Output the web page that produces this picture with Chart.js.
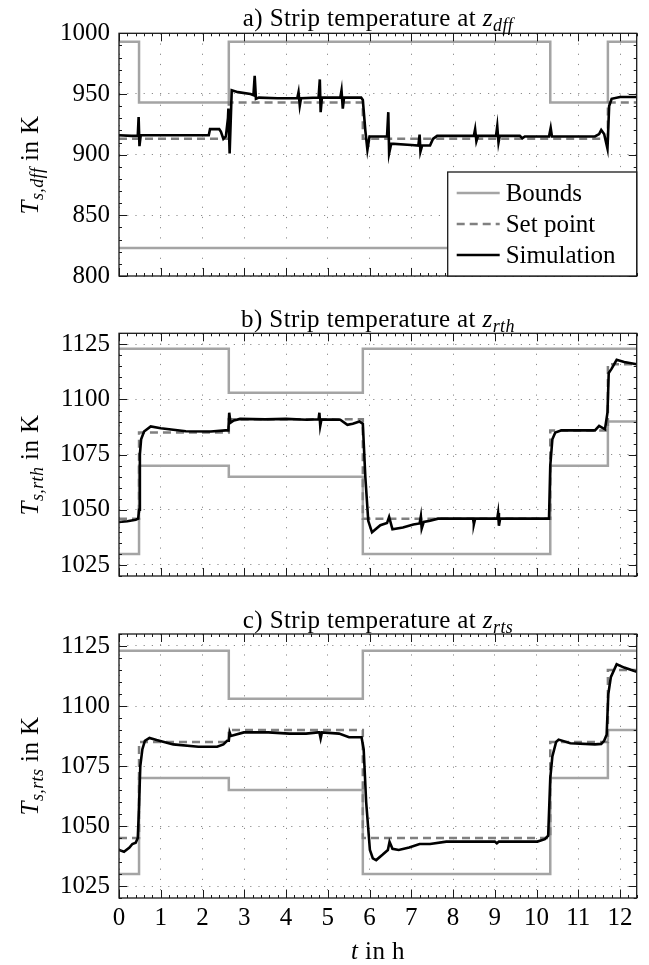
<!DOCTYPE html>
<html>
<head>
<meta charset="utf-8">
<script src="https://cdn.jsdelivr.net/npm/chart.js@4.4.1/dist/chart.umd.min.js"></script>
<style>
  body { margin: 0; background: #fff; }
  #page { position: relative; width: 649px; height: 965px; overflow: hidden; font-family: 'Liberation Serif', serif; }
  canvas { position: absolute; left: 0; }
  .lbl { position: absolute; font-size: 25px; line-height: 1; white-space: nowrap; color: #000; transform: translate(-50%, -50%); letter-spacing: 0.4px; }
  .rot { transform: translate(-50%, -50%) rotate(-90deg); }
  sub { font-size: 72%; vertical-align: -0.28em; line-height: 0; }
</style>
</head>
<body>
<div id="page">
  <canvas id="chartA" width="649" height="300" style="top:0"></canvas>
  <canvas id="chartB" width="649" height="300" style="top:300px"></canvas>
  <canvas id="chartC" width="649" height="365" style="top:600px"></canvas>

  <div class="lbl" style="left:378px;top:17px">a) Strip temperature at <i>z</i><sub><i>dff</i></sub></div>
  <div class="lbl" style="left:378px;top:318px">b) Strip temperature at <i>z</i><sub><i>rth</i></sub></div>
  <div class="lbl" style="left:378px;top:619px">c) Strip temperature at <i>z</i><sub><i>rts</i></sub></div>

  <div class="lbl rot" style="left:29px;top:165px"><i>T</i><sub><i>s,dff</i></sub> in K</div>
  <div class="lbl rot" style="left:29px;top:465px"><i>T</i><sub><i>s,rth</i></sub> in K</div>
  <div class="lbl rot" style="left:29px;top:766px"><i>T</i><sub><i>s,rts</i></sub> in K</div>

  <div class="lbl" style="left:378px;top:950px"><i>t</i> in h</div>
</div>

<script>
// time axis, shared by the three panels
const xTicks = [0, 1, 2, 3, 4, 5, 6, 7, 8, 9, 10, 11, 12];
const tEnd = 12.4;
// bounds and set points change at these times (h)
const switchTimes = [0, 0.48, 2.63, 5.84, 10.33, 11.71];

// a) z_dff
const yTicksA = [800, 850, 900, 950, 1000];
const upperA = [993, 943, 993, 993, 943, 993];
const lowerA = [823, 823, 823, 823, 823, 823];
const setA   = [913, 913, 943, 913, 913, 943];
const simTimeA = [0, 0.3, 0.45, 0.47, 0.49, 0.52, 1.5, 2.15, 2.18, 2.4, 2.44, 2.5, 2.56, 2.61, 2.62, 2.65, 2.7,
  2.85, 3.15, 3.22, 3.25, 3.28, 3.35, 3.8, 4.27, 4.3, 4.33, 4.36, 4.78, 4.81, 4.83, 4.86, 5.3, 5.33, 5.36, 5.39,
  5.8, 5.84, 5.9, 5.95, 6.0, 6.42, 6.45, 6.47, 6.52, 7.0, 7.17, 7.2, 7.22, 7.26, 7.45, 7.52, 7.62, 8.5, 8.53,
  8.56, 8.6, 9.03, 9.06, 9.09, 9.12, 9.6, 9.66, 9.72, 10.3, 10.34, 10.37, 10.4, 11.4, 11.5, 11.55, 11.62, 11.7,
  11.74, 11.8, 12.0, 12.4];
const simTempA = [916, 915.5, 915.5, 931, 907, 916, 916, 916, 921, 921, 919, 913, 915, 930, 938, 901, 953,
  951.5, 950, 949, 965, 946, 947, 946.5, 946.5, 951.5, 940.5, 946.5, 947, 962, 935, 947, 947, 953, 938, 947,
  947, 945, 920, 904, 915, 915, 935, 901, 909, 908, 907.5, 916.5, 902.5, 907.5, 907.5, 913, 915.5, 915.5, 921,
  911, 915.5, 915.5, 923.5, 910, 915.5, 915.5, 913.5, 915, 915, 922, 915, 915, 915, 917, 920.4, 917, 905,
  940, 946, 947.5, 947.5];

// b) z_rth
const yTicksB = [1025, 1050, 1075, 1100, 1125];
const upperB = [1123, 1123, 1103, 1123, 1123, 1123];
const lowerB = [1030, 1070, 1065, 1030, 1070, 1090];
const setB   = [1046, 1085, 1091, 1046, 1086, 1116];
const simTimeB = [0, 0.2, 0.4, 0.46, 0.48, 0.5, 0.53, 0.6, 0.76, 1.0, 1.6, 2.2, 2.55, 2.62, 2.64, 2.67, 2.75,
  2.9, 3.5, 4.0, 4.5, 4.78, 4.8, 4.82, 4.85, 5.3, 5.47, 5.6, 5.76, 5.84, 5.9, 5.97, 6.06, 6.26, 6.42, 6.47,
  6.55, 6.8, 7.05, 7.2, 7.23, 7.25, 7.3, 7.45, 7.64, 8.48, 8.5, 8.53, 9.06, 9.08, 9.1, 9.13, 10.3, 10.33,
  10.38, 10.45, 10.6, 11.4, 11.5, 11.55, 11.64, 11.7, 11.73, 11.8, 11.92, 12.1, 12.4];
const simTempB = [1044.5, 1044.8, 1045.5, 1046, 1050, 1075, 1082, 1085.5, 1087.8, 1087, 1085.6, 1085.5, 1086,
  1086, 1094, 1089.5, 1090.5, 1091.2, 1091, 1091.2, 1090.8, 1091, 1094, 1088, 1091, 1090.8, 1088.5, 1089, 1090,
  1089, 1065, 1045, 1039.8, 1043, 1044, 1046.8, 1041.2, 1042, 1043.3, 1043.8, 1047, 1041.5, 1044.5, 1045, 1046,
  1046, 1043.5, 1046, 1046, 1048.5, 1042.8, 1046, 1046, 1070, 1082, 1085, 1086, 1086, 1088, 1087.5, 1086.5,
  1094, 1112, 1114, 1118, 1117, 1116];

// c) z_rts
const yTicksC = [1025, 1050, 1075, 1100, 1125];
const upperC = [1123, 1123, 1103, 1123, 1123, 1123];
const lowerC = [1030, 1070, 1065, 1030, 1070, 1090];
const setC   = [1045, 1085, 1090, 1045, 1085, 1115];
const simTimeC = [0, 0.12, 0.25, 0.32, 0.4, 0.45, 0.48, 0.51, 0.56, 0.62, 0.73, 0.9, 1.3, 1.9, 2.35, 2.5, 2.59,
  2.63, 2.65, 2.68, 2.99, 3.58, 4.08, 4.48, 4.77, 4.8, 4.83, 4.86, 5.27, 5.51, 5.81, 5.86, 5.92, 6.01, 6.08,
  6.16, 6.31, 6.44, 6.48, 6.55, 6.7, 6.95, 7.2, 7.45, 7.84, 9.0, 9.05, 9.1, 10.02, 10.2, 10.28, 10.33, 10.38,
  10.47, 10.53, 10.81, 11.4, 11.55, 11.62, 11.68, 11.72, 11.78, 11.92, 12.1, 12.4];
const simTempC = [1040, 1039.3, 1041, 1042.5, 1043, 1045, 1058, 1075, 1082, 1085.5, 1086.7, 1085.8, 1084, 1083,
  1083, 1084, 1085.5, 1085.5, 1089, 1087.5, 1089, 1089, 1088.5, 1088.5, 1089, 1089, 1086.5, 1089, 1088.5, 1087,
  1087, 1082, 1060, 1040, 1036.5, 1035.8, 1038, 1040, 1043.4, 1040.5, 1040, 1041, 1042.5, 1042.5, 1043.5,
  1043.5, 1042.8, 1043.5, 1043.5, 1044.5, 1046, 1070, 1079, 1085, 1086, 1084.5, 1084, 1084.2, 1085.5, 1088,
  1105, 1112, 1117.4, 1116, 1114.3];

const FONT = "'Liberation Serif', serif";
const FSIZE = 25;
const boundColor = '#a4a4a4';
const setColor = '#808080';

function stepPoints(vals) {
  const pts = switchTimes.map((t, i) => ({x: t, y: vals[i]}));
  pts.push({x: tEnd, y: vals[vals.length - 1]});
  return pts;
}

function pairs(ts, vs) {
  return ts.map((t, i) => ({x: t, y: vs[i]}));
}

// frame round the plot, ticks pointing inward on all four sides
const frameTicks = {
  id: 'frameTicks',
  afterDatasetsDraw(chart, args, opts) {
    const {ctx, chartArea: a, scales: {x, y}} = chart;
    ctx.save();
    ctx.strokeStyle = '#1a1a1a';
    ctx.lineWidth = 1;
    ctx.beginPath();
    const minorX = 0.2;
    for (let k = Math.ceil(x.min / minorX); k * minorX <= x.max + 1e-9; k++) {
      const px = Math.round(x.getPixelForValue(k * minorX)) + 0.5;
      ctx.moveTo(px, a.bottom); ctx.lineTo(px, a.bottom - 3);
      ctx.moveTo(px, a.top); ctx.lineTo(px, a.top + 3);
    }
    for (let k = Math.ceil(y.min / opts.minorY); k * opts.minorY <= y.max + 1e-9; k++) {
      const py = Math.round(y.getPixelForValue(k * opts.minorY)) + 0.5;
      ctx.moveTo(a.left, py); ctx.lineTo(a.left + 3, py);
      ctx.moveTo(a.right, py); ctx.lineTo(a.right - 3, py);
    }
    x.ticks.forEach(t => {
      const px = Math.round(x.getPixelForValue(t.value)) + 0.5;
      ctx.moveTo(px, a.bottom); ctx.lineTo(px, a.bottom - 8);
      ctx.moveTo(px, a.top); ctx.lineTo(px, a.top + 8);
    });
    y.ticks.forEach(t => {
      const py = Math.round(y.getPixelForValue(t.value)) + 0.5;
      ctx.moveTo(a.left, py); ctx.lineTo(a.left + 8, py);
      ctx.moveTo(a.right, py); ctx.lineTo(a.right - 8, py);
    });
    ctx.stroke();
    ctx.lineWidth = 1.3;
    ctx.strokeRect(a.left, a.top, a.right - a.left, a.bottom - a.top);
    ctx.restore();
  }
};

// legend box in the lower right corner of panel a
const boxLegend = {
  id: 'boxLegend',
  afterDraw(chart, args, opts) {
    if (!opts.show) return;
    const {ctx, chartArea: a} = chart;
    const w = 189, h = 104;
    const left = a.right - w, top = a.bottom - h;
    ctx.save();
    ctx.fillStyle = '#fff';
    ctx.fillRect(left, top, w, h);
    ctx.strokeStyle = '#1a1a1a';
    ctx.lineWidth = 1.3;
    ctx.strokeRect(left, top, w, h);
    const entries = opts.order.map(lbl => chart.data.datasets.find(d => d.label === lbl));
    ctx.font = FSIZE + 'px ' + FONT;
    ctx.textBaseline = 'middle';
    entries.forEach((ds, i) => {
      const cy = top + 21 + i * 31;
      ctx.strokeStyle = ds.borderColor;
      ctx.lineWidth = ds.borderWidth;
      ctx.setLineDash(ds.borderDash || []);
      ctx.beginPath();
      ctx.moveTo(left + 9, cy); ctx.lineTo(left + 52, cy);
      ctx.stroke();
      ctx.setLineDash([]);
      ctx.fillStyle = '#000';
      ctx.fillText(ds.label, left + 58, cy + 1);
    });
    ctx.restore();
  }
};

function makeChart(id, cfg) {
  const datasets = [
    {label: 'Simulation', data: pairs(cfg.simT, cfg.simV), borderColor: '#000', borderWidth: 2.6},
    {label: 'Set point', data: stepPoints(cfg.set), borderColor: setColor, borderWidth: 2.5, borderDash: [8, 5], stepped: true},
    {label: 'Bounds', data: stepPoints(cfg.upper), borderColor: boundColor, borderWidth: 2.5, stepped: true},
    {label: 'Lower bound', data: stepPoints(cfg.lower), borderColor: boundColor, borderWidth: 2.5, stepped: true}
  ];
  datasets.forEach(d => { d.pointRadius = 0; d.fill = false; d.tension = 0; });

  return new Chart(document.getElementById(id), {
    type: 'line',
    data: {datasets},
    options: {
      responsive: false,
      animation: false,
      layout: {padding: {left: 0, right: 12.3, top: cfg.padTop, bottom: cfg.padBottom}},
      plugins: {
        legend: {display: false},
        tooltip: {enabled: false},
        frameTicks: {minorY: cfg.minorY},
        boxLegend: {show: !!cfg.legend, order: ['Bounds', 'Set point', 'Simulation']}
      },
      scales: {
        x: {
          type: 'linear',
          min: 0,
          max: tEnd,
          afterBuildTicks: s => { s.ticks = xTicks.map(v => ({value: v})); },
          afterFit: s => { s.height = cfg.xHeight; },
          grid: {color: '#8c8c8c', lineWidth: 1, drawTicks: false},
          border: {display: false, dash: [1.2, 9]},
          ticks: {
            display: cfg.xLabels,
            autoSkip: false,
            maxRotation: 0,
            padding: 5,
            color: '#000',
            font: {family: FONT, size: FSIZE},
            callback: v => String(v)
          }
        },
        y: {
          min: cfg.yMin,
          max: cfg.yMax,
          afterBuildTicks: s => { s.ticks = cfg.yTicks.map(v => ({value: v})); },
          afterFit: s => { s.width = 119; },
          grid: {color: '#8c8c8c', lineWidth: 1, drawTicks: false},
          border: {display: false, dash: [1.2, 7]},
          ticks: {
            padding: 9,
            color: '#000',
            font: {family: FONT, size: FSIZE},
            callback: v => String(v)
          }
        }
      }
    },
    plugins: [frameTicks, boxLegend]
  });
}

makeChart('chartA', {
  simT: simTimeA, simV: simTempA, set: setA, upper: upperA, lower: lowerA,
  yMin: 800, yMax: 1000, yTicks: yTicksA, minorY: 10,
  padTop: 33.3, padBottom: 2.7, xHeight: 0, xLabels: false, legend: true
});
makeChart('chartB', {
  simT: simTimeB, simV: simTempB, set: setB, upper: upperB, lower: lowerB,
  yMin: 1020, yMax: 1130, yTicks: yTicksB, minorY: 5,
  padTop: 33.3, padBottom: 2.3, xHeight: 0, xLabels: false
});
makeChart('chartC', {
  simT: simTimeC, simV: simTempC, set: setC, upper: upperC, lower: lowerC,
  yMin: 1020, yMax: 1130, yTicks: yTicksC, minorY: 5,
  padTop: 34, padBottom: 0, xHeight: 67, xLabels: true
});
</script>
</body>
</html>
